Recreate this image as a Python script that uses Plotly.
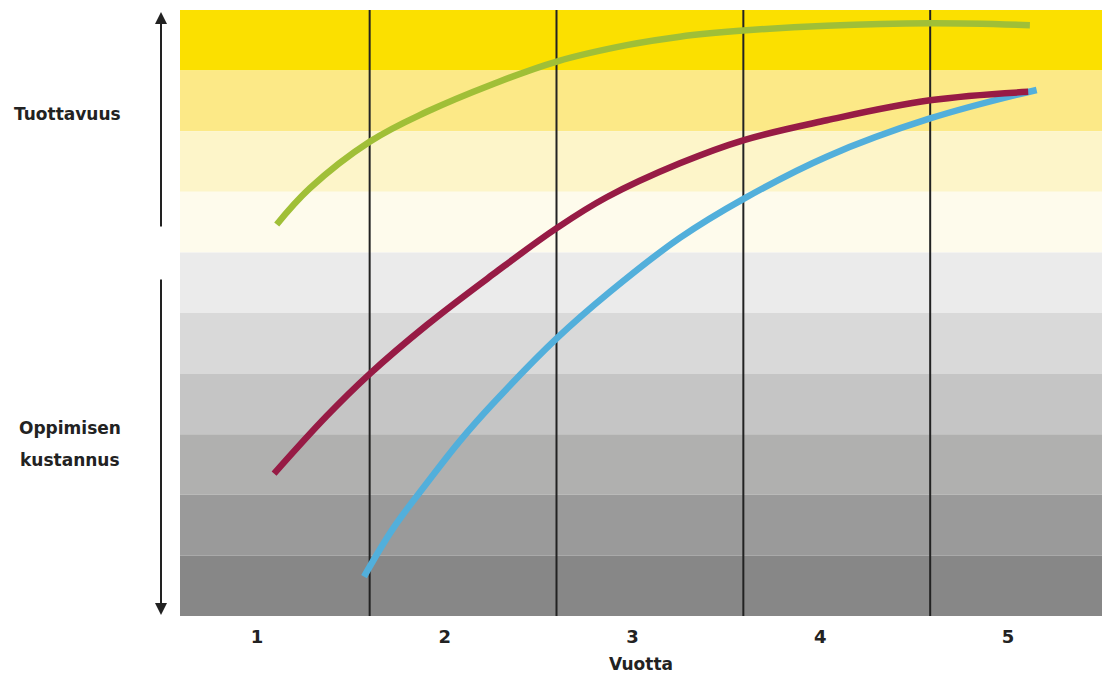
import plotly.graph_objects as go

# ---- data ----
years = [1, 2, 3, 4, 5]
year_labels = ["1", "2", "3", "4", "5"]
divider_x = [1.6, 2.595, 3.59, 4.585]
band_colors = ["#FBE000", "#FCE987", "#FDF5C9", "#FEFBEC",
               "#EBEBEB", "#D9D9D9", "#C5C5C5", "#B0B0AF", "#9A9A9A", "#878787"]  # top -> bottom

green_x = [1.105, 1.282, 1.602, 1.904, 2.258, 2.596, 2.969, 3.252, 3.589, 4.034, 4.584, 5.116]
green_y = [6.46, 7.06, 7.83, 8.32, 8.78, 9.15, 9.42, 9.56, 9.66, 9.74, 9.78, 9.75]

red_x = [1.091, 1.371, 1.602, 1.904, 2.258, 2.596, 2.862, 3.252, 3.589, 4.034, 4.584, 5.107]
red_y = [2.35, 3.30, 4.00, 4.80, 5.64, 6.40, 6.91, 7.47, 7.85, 8.18, 8.51, 8.65]

blue_x = [1.570, 1.726, 1.904, 2.081, 2.258, 2.596, 2.880, 3.252, 3.589, 4.034, 4.584, 5.152]
blue_y = [0.65, 1.45, 2.19, 2.89, 3.51, 4.58, 5.35, 6.24, 6.88, 7.58, 8.21, 8.68]

fig = go.Figure()

shapes = []
n = len(band_colors)
for i, c in enumerate(band_colors):
    shapes.append(dict(type="rect", xref="paper", yref="y", x0=0, x1=1,
                       y0=n - i - 1, y1=n - i, fillcolor=c, line=dict(width=0), layer="below"))
for xv in divider_x:
    shapes.append(dict(type="line", xref="x", yref="paper", x0=xv, x1=xv, y0=0, y1=1,
                       line=dict(color="#222222", width=2), layer="below"))

for xs, ys, col in [(blue_x, blue_y, "#52AFDB"), (red_x, red_y, "#971B45"), (green_x, green_y, "#A0BF37")]:
    fig.add_trace(go.Scatter(x=xs, y=ys, mode="lines",
                             line=dict(color=col, width=6.5, shape="spline", smoothing=1.1),
                             hoverinfo="skip", showlegend=False))

font_main = "'DejaVu Sans', sans-serif"
txt_font = dict(family=font_main, size=17, color="#222222")

annotations = [
    dict(text="<b>Tuottavuus</b>", xref="paper", yref="paper", x=(67 - 180) / 922, y=(616 - 114) / 606,
         showarrow=False, font=txt_font, xanchor="center", yanchor="middle"),
    dict(text="<b>Oppimisen</b>", xref="paper", yref="paper", x=(70 - 180) / 922, y=(616 - 428) / 606,
         showarrow=False, font=txt_font, xanchor="center", yanchor="middle"),
    dict(text="<b>kustannus</b>", xref="paper", yref="paper", x=(70 - 180) / 922, y=(616 - 460) / 606,
         showarrow=False, font=txt_font, xanchor="center", yanchor="middle"),
    dict(text="", xref="paper", yref="paper", x=(161 - 180) / 922, y=(616 - 12) / 606,
         ax=0, ay=216, showarrow=True, arrowhead=2, arrowsize=1.2, arrowwidth=2, arrowcolor="#222222"),
    dict(text="", xref="paper", yref="paper", x=(161 - 180) / 922, y=(616 - 615) / 606,
         ax=0, ay=-337, showarrow=True, arrowhead=2, arrowsize=1.2, arrowwidth=2, arrowcolor="#222222"),
]

fig.update_layout(
    width=1102, height=675,
    margin=dict(l=180, r=0, t=10, b=59),
    paper_bgcolor="white", plot_bgcolor="white",
    shapes=shapes, annotations=annotations,
    xaxis=dict(range=[0.59, 5.5], tickvals=years, ticktext=year_labels, showgrid=False, zeroline=False,
               ticks="", showline=False, ticklabelstandoff=8,
               tickfont=dict(family=font_main, size=18, color="#222222", weight="bold"),
               title=dict(text="<b>Vuotta</b>", font=dict(family=font_main, size=17, color="#222222"), standoff=12)),
    yaxis=dict(range=[0, 10], showgrid=False, zeroline=False, showticklabels=False, ticks="", showline=False),
)

fig.write_html("out.html", config={"displayModeBar": False},
               post_script="document.body.style.margin='0';document.body.style.overflow='hidden';")
